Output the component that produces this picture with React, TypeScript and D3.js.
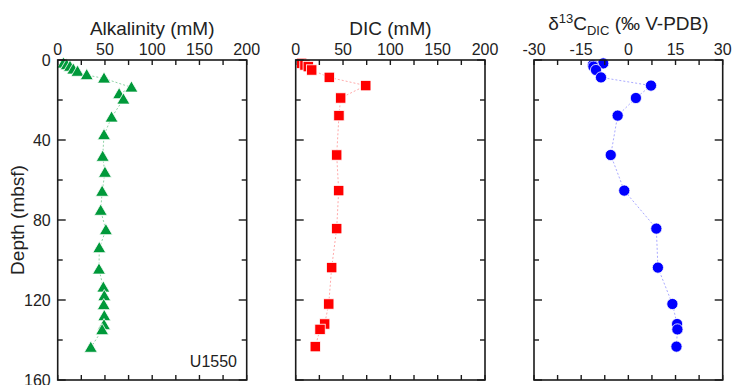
import React from "react";
import * as d3 from "d3";

const alkDepth = [1.7, 2.5, 3.3, 4.7, 5.8, 7.5, 9.2, 13.7, 17, 19.7, 28.7, 37.5, 48.3, 56.3, 65.8, 75.3, 85, 94, 104.7, 113.7, 118, 122.5, 128, 132.5, 135, 143.8];
const alkValues = [6, 9.5, 13, 16.5, 21, 30.7, 49, 78, 65, 69.5, 57, 49, 47.6, 50, 47, 45.5, 51, 44, 43.7, 48.3, 49.3, 48.7, 49.3, 49, 47, 35];

const dicDepth = [1.7, 2.5, 3.3, 5, 8.7, 12.8, 19, 27.8, 47.5, 65.3, 84.3, 103.8, 122, 132, 134.7, 143.3];
const dicValues = [6.3, 9.8, 13.3, 16.9, 35.5, 74, 47.5, 45.7, 43.3, 45.4, 43.3, 38, 34.9, 30.6, 25.7, 20.7];
const d13cValues = [-8.0, -11.3, -11.1, -10.3, -8.7, 7.2, 2.4, -3.4, -5.6, -1.3, 8.9, 9.4, 14.0, 15.5, 15.6, 15.3];

const concTicks = [0, 50, 100, 150, 200];
const concMinor = [25, 75, 125, 175];
const d13cTicks = [-30, -15, 0, 15, 30];
const d13cMinor = [-22.5, -7.5, 7.5, 22.5];
const depthTicks = [0, 40, 80, 120, 160];
const depthMinor = [20, 60, 100, 140];

const FONT = "'Liberation Sans', Arial, sans-serif";
const TOP = 60;
const BOTTOM = 380;
const yScale = d3.scaleLinear().domain([0, 160]).range([TOP, BOTTOM]);

type PanelProps = {
  x0: number;
  x1: number;
  domain: [number, number];
  ticks: number[];
  minor: number[];
  showYLabels?: boolean;
  children: (x: d3.ScaleLinear<number, number>) => React.ReactNode;
};

function Panel({ x0, x1, domain, ticks, minor, showYLabels, children }: PanelProps) {
  const x = d3.scaleLinear().domain(domain).range([x0, x1]);
  const axisColor = "#1a1a1a";
  return (
    <g>
      {children(x)}
      <rect x={x0} y={TOP} width={x1 - x0} height={BOTTOM - TOP} fill="none" stroke={axisColor} strokeWidth={1.6} />
      {ticks.concat(minor).map((t, i) => (
        <g key={"xt" + i}>
          <line x1={x(t)} x2={x(t)} y1={TOP} y2={TOP + 5} stroke={axisColor} strokeWidth={1.4} />
          <line x1={x(t)} x2={x(t)} y1={BOTTOM} y2={BOTTOM - 5} stroke={axisColor} strokeWidth={1.4} />
        </g>
      ))}
      {ticks.map((t, i) => (
        <text key={"xl" + i} x={x(t)} y={55} textAnchor="middle" fontSize={16} fontFamily={FONT} fill="#222">
          {t}
        </text>
      ))}
      {depthTicks.map((t, i) => (
        <g key={"yt" + i}>
          <line x1={x0} x2={x0 + 8} y1={yScale(t)} y2={yScale(t)} stroke={axisColor} strokeWidth={1.4} />
          <line x1={x1} x2={x1 - 8} y1={yScale(t)} y2={yScale(t)} stroke={axisColor} strokeWidth={1.4} />
        </g>
      ))}
      {depthMinor.map((t, i) => (
        <g key={"ym" + i}>
          <line x1={x0} x2={x0 + 5} y1={yScale(t)} y2={yScale(t)} stroke={axisColor} strokeWidth={1.4} />
          <line x1={x1} x2={x1 - 5} y1={yScale(t)} y2={yScale(t)} stroke={axisColor} strokeWidth={1.4} />
        </g>
      ))}
      {showYLabels &&
        depthTicks.map((t, i) => (
          <text key={"yl" + i} x={x0 - 7} y={yScale(t) + 6} textAnchor="end" fontSize={16} fontFamily={FONT} fill="#222">
            {t}
          </text>
        ))}
    </g>
  );
}

export default function App() {
  const line = (xs: number[], ds: number[], x: d3.ScaleLinear<number, number>) =>
    d3.line<number>().x((v) => x(v)).y((_, i) => yScale(ds[i]))(xs) || "";

  return (
    <svg width={734} height={385} style={{ position: "absolute", left: 0, top: 0 }}>
      <rect width={734} height={385} fill="#fff" />
      <Panel x0={57.7} x1={246.7} domain={[0, 200]} ticks={concTicks} minor={concMinor} showYLabels>
        {(x) => (
          <g>
            <path d={line(alkValues, alkDepth, x)} fill="none" stroke="#8fd3a6" strokeWidth={1} strokeDasharray="2,2" />
            {alkValues.map((v, i) => {
              const cx = x(v);
              const cy = yScale(alkDepth[i]);
              const s = 6.5;
              return (
                <path
                  key={i}
                  d={`M${cx},${cy - s}L${cx + s * 1.0},${cy + s * 0.72}L${cx - s * 1.0},${cy + s * 0.72}Z`}
                  fill="#00993a"
                  stroke="#fff"
                  strokeWidth={0.8}
                />
              );
            })}
          </g>
        )}
      </Panel>
      <Panel x0={295.7} x1={485} domain={[0, 200]} ticks={concTicks} minor={concMinor}>
        {(x) => (
          <g>
            <path d={line(dicValues, dicDepth, x)} fill="none" stroke="#ffaaaa" strokeWidth={1} strokeDasharray="2,2" />
            {dicValues.map((v, i) => (
              <rect
                key={i}
                x={x(v) - 5.2}
                y={yScale(dicDepth[i]) - 5.2}
                width={10.4}
                height={10.4}
                fill="#ff0000"
                stroke="#fff"
                strokeWidth={0.8}
              />
            ))}
          </g>
        )}
      </Panel>
      <Panel x0={534} x1={722.7} domain={[-30, 30]} ticks={d13cTicks} minor={d13cMinor}>
        {(x) => (
          <g>
            <path d={line(d13cValues, dicDepth, x)} fill="none" stroke="#aaaaff" strokeWidth={1} strokeDasharray="2,2" />
            {d13cValues.map((v, i) => (
              <circle key={i} cx={x(v)} cy={yScale(dicDepth[i])} r={5.6} fill="#0000ff" stroke="#fff" strokeWidth={0.8} />
            ))}
          </g>
        )}
      </Panel>
      <text x={152.2} y={35} textAnchor="middle" fontSize={19} fontFamily={FONT} fill="#222">
        Alkalinity (mM)
      </text>
      <text x={390.4} y={35} textAnchor="middle" fontSize={19} fontFamily={FONT} fill="#222">
        DIC (mM)
      </text>
      <text x={628.4} y={30} textAnchor="middle" fontSize={19} fontFamily={FONT} fill="#222">
        δ<tspan fontSize={13} dy={-7}>13</tspan>
        <tspan dy={7}>C</tspan>
        <tspan fontSize={13} dy={5}>DIC</tspan>
        <tspan dy={-5}> (‰ V-PDB)</tspan>
      </text>
      <text
        transform={`translate(24,${yScale(80)}) rotate(-90)`}
        textAnchor="middle"
        fontSize={19}
        fontFamily={FONT}
        fill="#222"
      >
        Depth (mbsf)
      </text>
      <text x={237} y={367} textAnchor="end" fontSize={16} fontFamily={FONT} fill="#222">
        U1550
      </text>
    </svg>
  );
}
